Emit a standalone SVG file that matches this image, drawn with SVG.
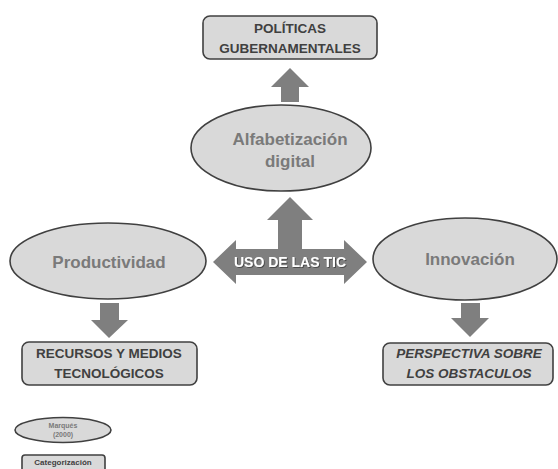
<svg xmlns="http://www.w3.org/2000/svg" width="558" height="469" viewBox="0 0 558 469">
<defs>
<style>
.box{fill:#d9d9d9;stroke:#404040;stroke-width:1.6}
.ell{fill:#d9d9d9;stroke:#404040;stroke-width:1.6}
.arrow{fill:#7f7f7f}
.bt{font-family:"Liberation Sans",Arial,sans-serif;font-weight:bold;font-size:13.5px;fill:#404040;text-anchor:middle}
.et{font-family:"Liberation Sans",Arial,sans-serif;font-weight:bold;font-size:17px;fill:#7a7a7a;text-anchor:middle}
.it{font-style:italic}
</style>
<filter id="sh" x="-10%" y="-30%" width="120%" height="160%">
<feDropShadow dx="1" dy="1" stdDeviation="0.6" flood-color="#404040" flood-opacity="0.8"/>
</filter>
</defs>
<rect width="558" height="469" fill="#ffffff"/>
<g id="connectors">
<polygon class="arrow" points="281,102 281,87 271,87 290,68 309,87 299,87 299,102"/>
<polygon class="arrow" points="100,303 119,303 119,320 128,320 109,338 91,320 100,320"/>
<polygon class="arrow" points="461,303 480,303 480,318 489,318 470,337 451,318 461,318"/>
</g>
<g id="uso-tic">
<polygon class="arrow" points="213,262 236,240 236,249 278,249 278,220 267,220 290,197 313,220 302,220 302,249 344,249 344,240 367,262 344,284 344,275 236,275 236,284"/>
<text x="290" y="267" font-family="'Liberation Sans',Arial,sans-serif" font-weight="bold" font-size="14px" fill="#ffffff" text-anchor="middle" filter="url(#sh)">USO DE LAS TIC</text>
</g>
<g id="politicas">
<rect class="box" x="203" y="16" width="174" height="43" rx="7"/>
<text class="bt" x="290" y="33">POLÍTICAS</text>
<text class="bt" x="290" y="53">GUBERNAMENTALES</text>
</g>
<g id="alfabetizacion">
<ellipse class="ell" cx="281" cy="148" rx="90" ry="43"/>
<text class="et" x="290" y="145">Alfabetización</text>
<text class="et" x="290" y="167">digital</text>
</g>
<g id="productividad">
<ellipse class="ell" cx="108" cy="261" rx="98" ry="38"/>
<text class="et" x="109" y="268">Productividad</text>
</g>
<g id="innovacion">
<ellipse class="ell" cx="465" cy="259" rx="92" ry="41"/>
<text class="et" x="470" y="265">Innovación</text>
</g>
<g id="recursos">
<rect class="box" x="22" y="342" width="175" height="43" rx="7"/>
<text class="bt" x="109" y="358">RECURSOS Y MEDIOS</text>
<text class="bt" x="109" y="378">TECNOLÓGICOS</text>
</g>
<g id="perspectiva">
<rect class="box" x="383" y="343" width="170" height="42" rx="7"/>
<text class="bt it" x="469" y="358">PERSPECTIVA SOBRE</text>
<text class="bt it" x="469" y="378">LOS OBSTACULOS</text>
</g>
<g id="legend-marques">
<ellipse class="ell" cx="63" cy="430" rx="48" ry="12.5" stroke-width="1.2"/>
<text x="63" y="428" font-family="'Liberation Sans',Arial,sans-serif" font-weight="bold" font-size="7px" fill="#7a7a7a" text-anchor="middle">Marqués</text>
<text x="63" y="437" font-family="'Liberation Sans',Arial,sans-serif" font-weight="bold" font-size="7px" fill="#7a7a7a" text-anchor="middle">(2000)</text>
</g>
<g id="legend-categorizacion">
<rect class="box" x="22" y="455" width="83" height="20" rx="3" stroke-width="1.2"/>
<text x="63" y="465" font-family="'Liberation Sans',Arial,sans-serif" font-weight="bold" font-size="8px" fill="#404040" text-anchor="middle">Categorización</text>
</g>
</svg>
